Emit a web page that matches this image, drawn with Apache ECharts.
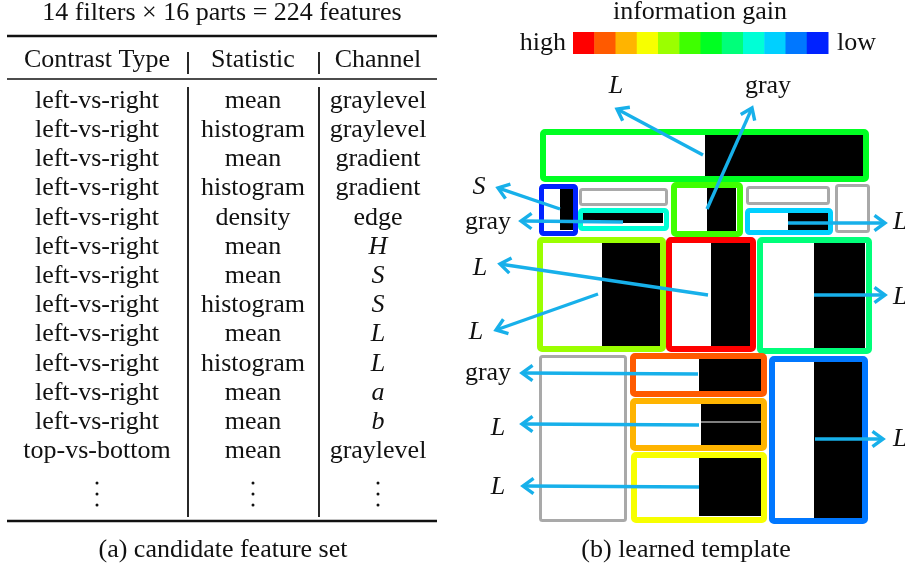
<!DOCTYPE html>
<html>
<head>
<meta charset="utf-8">
<script src="https://cdn.jsdelivr.net/npm/echarts@6/dist/echarts.min.js"></script>
<style>
  html, body { margin: 0; padding: 0; background: #fff; }
  #chart { width: 905px; height: 567px; }
</style>
</head>
<body>
<div id="chart"></div>
<script>
// ---------- (a) candidate feature set ----------
const tableTitle = '14 filters \u00d7 16 parts = 224 features';
const tableCaption = '(a) candidate feature set';
const columnHeaders = ['Contrast Type', 'Statistic', 'Channel'];
const contrastTypes = [
  'left-vs-right', 'left-vs-right', 'left-vs-right', 'left-vs-right',
  'left-vs-right', 'left-vs-right', 'left-vs-right', 'left-vs-right',
  'left-vs-right', 'left-vs-right', 'left-vs-right', 'left-vs-right',
  'top-vs-bottom'
];
const statistics = [
  'mean', 'histogram', 'mean', 'histogram', 'density', 'mean', 'mean',
  'histogram', 'mean', 'histogram', 'mean', 'mean', 'mean'
];
const channels = [
  'graylevel', 'graylevel', 'gradient', 'gradient', 'edge', 'H', 'S',
  'S', 'L', 'L', 'a', 'b', 'graylevel'
];
const italicChannels = ['H', 'S', 'L', 'a', 'b'];

// ---------- (b) learned template ----------
const templateCaption = '(b) learned template';
const gainTitle = 'information gain';
const gainEnds = ['high', 'low'];
// information-gain scale, from high to low
const gainColors = [
  '#ff0000', '#ff5a00', '#ffb400', '#f7ff00', '#9bff00', '#3fff00',
  '#00ff22', '#00ff7a', '#00ffd6', '#00d0ff', '#0077ff', '#0022ff'
];
// template parts: [left, top, right, bottom, gain rank] (rank null = part not selected)
const partBoxes = [
  [540, 129, 869, 182, 6],
  [539, 184, 578, 236, 11],
  [579, 188, 668, 206, null],
  [578, 208, 669, 231, 8],
  [671, 182, 743, 237, 5],
  [746, 186, 830, 205, null],
  [745, 208, 833, 235, 9],
  [835, 184, 870, 233, null],
  [537, 237, 666, 352, 4],
  [666, 237, 756, 352, 0],
  [757, 237, 872, 354, 7],
  [539, 355, 627, 522, null],
  [630, 353, 767, 397, 1],
  [630, 398, 767, 451, 2],
  [631, 452, 767, 523, 3],
  [769, 356, 868, 524, 10]
];
// dark side of each selected contrast filter: [left, top, right, bottom]
const filterDark = [
  [705, 135, 863, 176],
  [560, 189, 573, 230],
  [583, 213, 663, 223],
  [707, 188, 736, 232],
  [788, 212, 829, 231],
  [602, 243, 660, 346],
  [711, 243, 750, 346],
  [814, 243, 865, 348],
  [699, 358, 761, 392],
  [701, 404, 762, 421.5],
  [701, 422.5, 762, 446],
  [699, 458, 762, 516],
  [814, 362, 862, 518]
];
// arrows from a filter to its channel: [fromX, fromY, toX, toY, channel, labelX, labelY]
const arrows = [
  [703, 155, 617, 109, 'L', 616, 86],
  [707, 209, 752, 108, 'gray', 768, 86],
  [560, 209, 498, 188, 'S', 479, 187],
  [623, 222, 521, 221, 'gray', 488, 222],
  [788, 223, 885, 223, 'L', 893, 222],
  [708, 295, 500, 264, 'L', 480, 268],
  [598, 294, 496, 330, 'L', 476, 332],
  [814, 295, 885, 295, 'L', 893, 297],
  [698, 374, 522, 373, 'gray', 488, 373],
  [699, 425, 522, 424, 'L', 498, 428],
  [699, 487, 523, 486, 'L', 498, 487],
  [815, 439, 883, 439, 'L', 893, 439]
];

// ---------- layout & style ----------
const FONT = '"Liberation Serif", "Times New Roman", serif';
const FONT_SIZE = 26;
const INK = '#111';
const TABLE = {
  left: 7, right: 437, titleY: 13, topRule: 36, headY: 60, midRule: 79,
  firstRowY: 101, rowPitch: 29.2, bottomRule: 521, captionY: 550,
  colCenters: [97, 253, 378], colSeps: [188, 319],
  headSep: [52, 74], bodySep: [87, 517], dotsY: [483, 494, 505]
};
const BAR = { left: 573, right: 828, top: 32, bottom: 54, titleX: 700, titleY: 12,
  highX: 566, lowX: 837, labelY: 43, captionX: 686, captionY: 550 };
const ARROW_COLOR = '#17b0ea';
const ARROW_WIDTH = 3.4;
const GRAY_BOX = '#a9a9a9';
const RIGHT_LABEL_EDGE = 880;

function txt(text, x, y, opts) {
  opts = opts || {};
  return {
    type: 'text',
    style: {
      text: text, x: x, y: y,
      fill: INK,
      fontFamily: FONT,
      fontSize: opts.size || FONT_SIZE,
      fontStyle: opts.italic ? 'italic' : 'normal',
      align: opts.align || 'center',
      verticalAlign: 'middle'
    }
  };
}
function seg(api, x0, y0, x1, y1, w) {
  const a = api.coord([x0, y0]), b = api.coord([x1, y1]);
  return { type: 'line', shape: { x1: a[0], y1: a[1], x2: b[0], y2: b[1] },
    style: { stroke: INK, lineWidth: w } };
}

const chart = echarts.init(document.getElementById('chart'), null, { renderer: 'canvas' });

chart.setOption({
  animation: false,
  backgroundColor: '#fff',
  grid: { left: 0, right: 0, top: 0, bottom: 0 },
  xAxis: { type: 'value', min: 0, max: 905, show: false },
  yAxis: { type: 'value', min: 0, max: 567, inverse: true, show: false },
  series: [
    // table frame: rules, column separators, title, headers
    {
      type: 'custom', z: 2, data: [[0, 0]],
      renderItem: function (params, api) {
        const T = TABLE, ch = [];
        ch.push(seg(api, T.left, T.topRule, T.right, T.topRule, 2.6));
        ch.push(seg(api, T.left, T.midRule, T.right, T.midRule, 1.6));
        ch.push(seg(api, T.left, T.bottomRule, T.right, T.bottomRule, 2.6));
        T.colSeps.forEach(function (x) {
          ch.push(seg(api, x, T.headSep[0], x, T.headSep[1], 1.8));
          ch.push(seg(api, x, T.bodySep[0], x, T.bodySep[1], 1.8));
        });
        T.colCenters.forEach(function (x) {
          T.dotsY.forEach(function (y) {
            const p = api.coord([x, y]);
            ch.push({ type: 'circle', shape: { cx: p[0], cy: p[1], r: 1.5 }, style: { fill: INK } });
          });
        });
        let p = api.coord([(T.left + T.right) / 2, T.titleY]);
        ch.push(txt(tableTitle, p[0], p[1]));
        p = api.coord([(T.left + T.right) / 2 + 1, T.captionY]);
        ch.push(txt(tableCaption, p[0], p[1]));
        columnHeaders.forEach(function (h, i) {
          const q = api.coord([T.colCenters[i], T.headY]);
          ch.push(txt(h, q[0], q[1]));
        });
        return { type: 'group', children: ch };
      }
    },
    // table rows
    {
      type: 'custom', z: 3,
      data: contrastTypes.map(function (_, i) { return [TABLE.colCenters[0], TABLE.firstRowY + i * TABLE.rowPitch]; }),
      renderItem: function (params, api) {
        const i = params.dataIndex;
        const y = api.value(1);
        const cells = [contrastTypes[i], statistics[i], channels[i]];
        return {
          type: 'group',
          children: cells.map(function (c, k) {
            const p = api.coord([TABLE.colCenters[k], y]);
            return txt(c, p[0], p[1], { italic: k === 2 && italicChannels.indexOf(c) >= 0 });
          })
        };
      }
    },
    // information-gain colour scale
    {
      type: 'custom', z: 2,
      data: gainColors.map(function (_, i) { return [i, 0]; }),
      renderItem: function (params, api) {
        const i = params.dataIndex, n = gainColors.length;
        const step = (BAR.right - BAR.left) / n;
        const a = api.coord([BAR.left + i * step, BAR.top]);
        const b = api.coord([BAR.left + (i + 1) * step, BAR.bottom]);
        const ch = [{
          type: 'rect',
          shape: { x: a[0], y: a[1], width: b[0] - a[0] + 0.5, height: b[1] - a[1] },
          style: { fill: gainColors[i] }
        }];
        if (i === 0) {
          let p = api.coord([BAR.titleX, BAR.titleY]);
          ch.push(txt(gainTitle, p[0], p[1]));
          p = api.coord([BAR.highX, BAR.labelY]);
          ch.push(txt(gainEnds[0], p[0], p[1], { align: 'right' }));
          p = api.coord([BAR.lowX, BAR.labelY]);
          ch.push(txt(gainEnds[1], p[0], p[1], { align: 'left' }));
          p = api.coord([BAR.captionX, BAR.captionY]);
          ch.push(txt(templateCaption, p[0], p[1]));
        }
        return { type: 'group', children: ch };
      }
    },
    // dark halves of the filters
    {
      type: 'custom', z: 3,
      data: filterDark,
      renderItem: function (params, api) {
        const a = api.coord([api.value(0), api.value(1)]);
        const b = api.coord([api.value(2), api.value(3)]);
        return { type: 'rect', shape: { x: a[0], y: a[1], width: b[0] - a[0], height: b[1] - a[1] },
          style: { fill: '#000' } };
      }
    },
    // part outlines coloured by information gain
    {
      type: 'custom', z: 4,
      data: partBoxes.map(function (b) { return [b[0], b[1], b[2], b[3], b[4] == null ? -1 : b[4]]; }),
      renderItem: function (params, api) {
        const rank = api.value(4);
        const selected = rank >= 0;
        const small = api.value(2) - api.value(0) < 45 || api.value(3) - api.value(1) < 30;
        const lw = selected ? (small ? 5 : 6) : 3;
        const a = api.coord([api.value(0), api.value(1)]);
        const b = api.coord([api.value(2), api.value(3)]);
        const h = lw / 2;
        return {
          type: 'rect',
          shape: { x: a[0] + h, y: a[1] + h, width: b[0] - a[0] - lw, height: b[1] - a[1] - lw, r: 2 },
          style: { fill: 'none', stroke: selected ? gainColors[rank] : GRAY_BOX, lineWidth: lw, lineJoin: 'round' }
        };
      }
    },
    // arrows to channel labels
    {
      type: 'custom', z: 6,
      data: arrows.map(function (a) { return [a[0], a[1], a[2], a[3], a[5], a[6]]; }),
      renderItem: function (params, api) {
        const i = params.dataIndex;
        const s = api.coord([api.value(0), api.value(1)]);
        const t = api.coord([api.value(2), api.value(3)]);
        const dx = t[0] - s[0], dy = t[1] - s[1];
        const len = Math.sqrt(dx * dx + dy * dy);
        const ux = dx / len, uy = dy / len;
        const L = 13, th = 36 * Math.PI / 180;
        const c = Math.cos(th), sn = Math.sin(th);
        const w1 = [t[0] - L * (ux * c - uy * sn), t[1] - L * (uy * c + ux * sn)];
        const w2 = [t[0] - L * (ux * c + uy * sn), t[1] - L * (uy * c - ux * sn)];
        const lp = api.coord([api.value(4), api.value(5)]);
        const label = arrows[i][4];
        const rightSide = api.value(4) > RIGHT_LABEL_EDGE;
        return {
          type: 'group',
          children: [
            { type: 'line', shape: { x1: s[0], y1: s[1], x2: t[0] - ux * 1.5, y2: t[1] - uy * 1.5 },
              style: { stroke: ARROW_COLOR, lineWidth: ARROW_WIDTH } },
            { type: 'polyline', shape: { points: [w1, t, w2] },
              style: { stroke: ARROW_COLOR, lineWidth: ARROW_WIDTH, fill: 'none', lineJoin: 'miter' } },
            txt(label, lp[0], lp[1], { italic: label !== 'gray', align: rightSide ? 'left' : 'center' })
          ]
        };
      }
    }
  ]
});
</script>
</body>
</html>
